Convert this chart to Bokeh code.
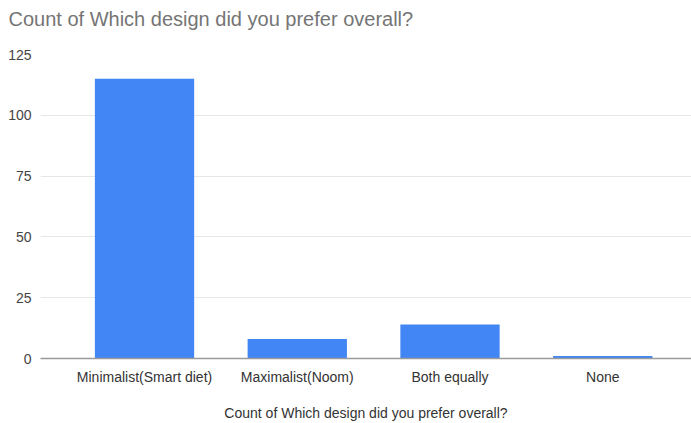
from bokeh.plotting import figure
from bokeh.models import Range1d, Title
from bokeh.embed import file_html
from bokeh.resources import INLINE

categories = ["Minimalist(Smart diet)", "Maximalist(Noom)", "Both equally", "None"]
counts = [115, 8, 14, 1]
y_ticks = [0, 25, 50, 75, 100, 125]
title_text = "Count of Which design did you prefer overall?"
x_label = "Count of Which design did you prefer overall?"

FONT = "Liberation Sans"
xs = list(range(len(categories)))

p = figure(width=691, height=423, x_range=Range1d(-0.681, 3.581),
           y_range=Range1d(0, 125), output_backend="svg", toolbar_location=None,
           title=title_text, min_border_left=40, min_border_right=0,
           min_border_top=54, min_border_bottom=64)

p.vbar(x=xs, top=counts, width=0.65, color="#4285f4", line_color=None)

p.title.text_font = FONT
p.title.text_font_size = "20px"
p.title.text_font_style = "normal"
p.title.text_color = "#757575"
p.title.offset = -32
p.title.standoff = 0

# empty spacer between the title and the plot area
spacer = Title(text=" ", text_font_size="1px", standoff=22, text_color="white")
p.add_layout(spacer, "above")

p.outline_line_color = None
p.xgrid.grid_line_color = None
p.ygrid.grid_line_color = "#e6e6e6"
p.ygrid.ticker = y_ticks

p.yaxis.ticker = y_ticks
p.yaxis.axis_line_color = None
p.yaxis.major_tick_line_color = None
p.yaxis.major_tick_out = 0
p.yaxis.minor_tick_line_color = None
p.yaxis.major_label_text_font = FONT
p.yaxis.major_label_text_font_size = "14px"
p.yaxis.major_label_text_color = "#444444"
p.yaxis.major_label_standoff = 9

p.xaxis.ticker = xs
p.xaxis.major_label_overrides = {i: c for i, c in zip(xs, categories)}
p.xaxis.axis_line_color = "#9a9a9a"
p.xaxis.axis_line_width = 1.5
p.xaxis.major_tick_line_color = None
p.xaxis.major_tick_out = 0
p.xaxis.minor_tick_line_color = None
p.xaxis.major_label_text_font = FONT
p.xaxis.major_label_text_font_size = "14px"
p.xaxis.major_label_text_color = "#333333"
p.xaxis.major_label_standoff = 10
p.xaxis.axis_label = x_label
p.xaxis.axis_label_text_font = FONT
p.xaxis.axis_label_text_font_size = "14px"
p.xaxis.axis_label_text_font_style = "normal"
p.xaxis.axis_label_text_color = "#333333"
p.xaxis.axis_label_standoff = 17

open("out.html", "w").write(file_html(p, INLINE))
